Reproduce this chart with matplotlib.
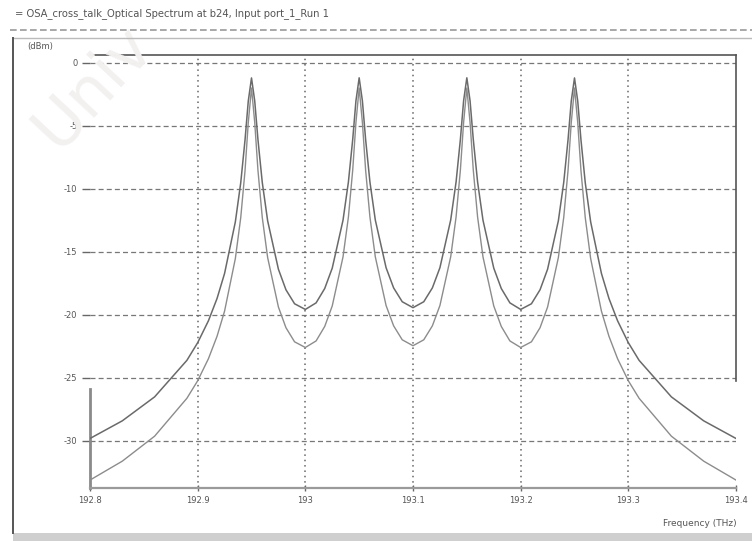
import matplotlib
matplotlib.use("Agg")
import matplotlib.pyplot as plt
from matplotlib.lines import Line2D
from matplotlib.patches import Rectangle

# ---------------- data ----------------
freq_thz = [
    192.800, 192.830, 192.860, 192.890, 192.900, 192.910, 192.918, 192.925, 192.935, 192.940,
    192.944, 192.947, 192.950, 192.953, 192.956, 192.960, 192.965, 192.975, 192.982, 192.990,
    193.000, 193.010, 193.018, 193.025, 193.035, 193.040, 193.044, 193.047, 193.050, 193.053,
    193.056, 193.060, 193.065, 193.075, 193.082, 193.090, 193.100,
    193.110, 193.118, 193.125, 193.135, 193.140, 193.144, 193.147, 193.150, 193.153, 193.156,
    193.160, 193.165, 193.175, 193.182, 193.190, 193.200, 193.210, 193.218, 193.225, 193.235,
    193.240, 193.244, 193.247, 193.250, 193.253, 193.256, 193.260, 193.265, 193.275, 193.282,
    193.290, 193.300, 193.310, 193.340, 193.370, 193.400,
]

power_upper_dbm = [
    -29.8, -28.4, -26.5, -23.6, -22.2, -20.46, -18.69, -16.70, -12.61, -9.51,
    -6.10, -3.03, -1.19, -3.02, -6.09, -9.48, -12.53, -16.37, -18.00, -19.11,
    -19.56, -19.04, -17.90, -16.28, -12.48, -9.45, -6.08, -3.01, -1.18, -3.01,
    -6.08, -9.45, -12.47, -16.25, -17.85, -18.95, -19.42,
    -18.95, -17.85, -16.25, -12.47, -9.45, -6.08, -3.01, -1.18, -3.01, -6.08,
    -9.45, -12.48, -16.28, -17.90, -19.04, -19.56, -19.11, -18.00, -16.37, -12.53,
    -9.48, -6.09, -3.02, -1.19, -3.03, -6.10, -9.51, -12.61, -16.70, -18.69,
    -20.46, -22.2, -23.6, -26.5, -28.4, -29.8,
]

power_lower_dbm = [
    -33.1, -31.6, -29.62, -26.61, -25.22, -23.47, -21.69, -19.69, -15.52, -12.28,
    -8.54, -4.74, -1.99, -4.73, -8.53, -12.26, -15.45, -19.37, -21.01, -22.13,
    -22.58, -22.06, -20.91, -19.28, -15.39, -12.23, -8.51, -4.73, -1.99, -4.73,
    -8.51, -12.23, -15.39, -19.25, -20.86, -21.97, -22.44,
    -21.97, -20.86, -19.25, -15.39, -12.23, -8.51, -4.73, -1.99, -4.73, -8.51,
    -12.23, -15.39, -19.28, -20.91, -22.06, -22.58, -22.13, -21.01, -19.37, -15.45,
    -12.26, -8.53, -4.73, -1.99, -4.74, -8.54, -12.28, -15.52, -19.69, -21.69,
    -23.47, -25.22, -26.61, -29.62, -31.6, -33.1,
]

x_ticks = [192.8, 192.9, 193.0, 193.1, 193.2, 193.3, 193.4]
x_tick_labels = ["192.8", "192.9", "193", "193.1", "193.2", "193.3", "193.4"]
y_ticks = [0, -5, -10, -15, -20, -25, -30]
y_tick_labels = ["0", "-5", "-10", "-15", "-20", "-25", "-30"]

title_text = "= OSA_cross_talk_Optical Spectrum at b24, Input port_1_Run 1"
watermark_text = "Univ"

# ---------------- figure ----------------
W, H = 752, 541
fig = plt.figure(figsize=(W / 100, H / 100), dpi=100)
fig.patch.set_facecolor("white")

def fx(px):
    return px / W

def fy(py):
    return 1 - py / H

# faint watermark
fig.text(fx(22), fy(160), watermark_text, rotation=47, fontsize=46,
         color="#f3f0f0", ha="left", va="bottom", zorder=0)

# window chrome
fig.text(fx(15), fy(14), title_text, fontsize=7.2, color="#555555",
         ha="left", va="center")
fig.add_artist(Line2D([fx(10), fx(752)], [fy(30), fy(30)], color="#9a9a9a",
                      lw=1.2, ls=(0, (4, 2))))
fig.add_artist(Line2D([fx(13), fx(752)], [fy(38), fy(38)], color="#bbbbbb", lw=1.0))
fig.add_artist(Line2D([fx(13), fx(13)], [fy(38), fy(533)], color="#555555", lw=1.4))
fig.add_artist(Rectangle((fx(13), 0), fx(752) - fx(13), fy(533), transform=fig.transFigure,
                         facecolor="#cfcfcf", edgecolor="none"))

# plot area
ax = fig.add_axes([fx(90), fy(488), fx(736) - fx(90), fy(55) - fy(488)])
ax.set_facecolor("none")
ax.set_xlim(192.8, 193.4)
ax.set_ylim(-33.73, 0.63)

ax.plot(freq_thz, power_lower_dbm, color="#8c8c8c", lw=1.0, zorder=3)
ax.plot(freq_thz, power_upper_dbm, color="#6a6a6a", lw=1.1, zorder=4)

# grid
for yv in y_ticks:
    ax.axhline(yv, color="#777777", lw=0.9, ls=(0, (4, 2.5)), zorder=1)
for xv in x_ticks[1:-1]:
    ax.axvline(xv, color="#666666", lw=1.1, ls=(0, (1, 2.5)), zorder=1)

# spines
for s in ax.spines.values():
    s.set_color("#555555")
ax.spines["top"].set_linewidth(1.2)
ax.spines["right"].set_linewidth(1.2)
ax.spines["right"].set_bounds(-25.2, 0.63)
ax.spines["left"].set_linewidth(2.0)
ax.spines["left"].set_color("#8a8a8a")
ax.spines["left"].set_bounds(-33.73, -25.9)
ax.spines["bottom"].set_linewidth(1.6)
ax.spines["bottom"].set_color("#9a9a9a")

ax.set_xticks(x_ticks)
ax.set_xticklabels(x_tick_labels)
ax.set_yticks(y_ticks)
ax.set_yticklabels(y_tick_labels)
ax.tick_params(axis="y", direction="out", length=6, width=1.0, color="#666666",
               labelsize=6, labelcolor="#555555", pad=3)
ax.tick_params(axis="x", direction="inout", length=5, width=1.0, color="#666666",
               labelsize=6, labelcolor="#555555", pad=3)

fig.text(fx(40), fy(47), "(dBm)", fontsize=6, color="#555555", ha="center", va="center")
fig.text(fx(700), fy(523), "Frequency (THz)", fontsize=6.5, color="#555555",
         ha="center", va="center")

fig.savefig("out.png", dpi=100)
